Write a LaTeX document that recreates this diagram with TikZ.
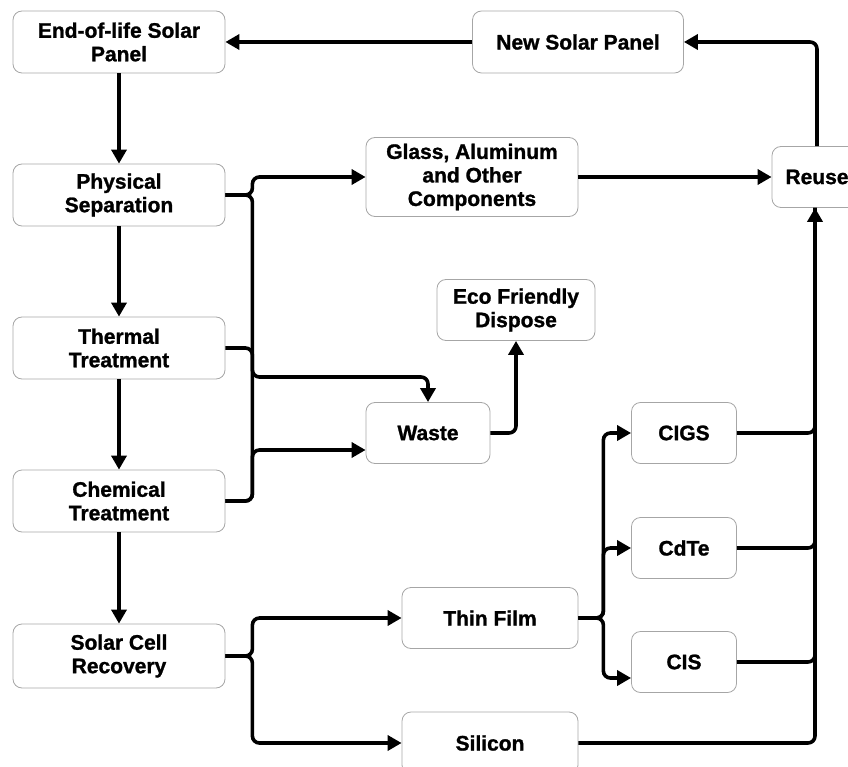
\documentclass[tikz,border=0pt]{standalone}
\usepackage{fontspec}
\setmainfont{Liberation Sans}[BoldFeatures={FakeBold=1.2}]
\usetikzlibrary{arrows.meta}

\begin{document}
\begin{tikzpicture}[x=1pt, y=-1pt,
  every node/.style = {shape=rectangle, rounded corners=9pt,
    draw=black!35, line width=0.8pt, align=center, inner sep=0pt,
    font=\fontsize{21}{23.5}\selectfont\bfseries},
  box/.style = {minimum width=212pt, minimum height=62pt},
  flow/.style = {line width=3.6pt, rounded corners=7pt,
    -{Triangle[length=14pt,width=15pt]}},
  link/.style = {line width=3.6pt, rounded corners=7pt}]

  \clip (0,0) rectangle (848,767);

  % main column
  \node[box] (eol)   at (119,42)  {End-of-life Solar\\Panel};
  \node[box] (phys)  at (119,195) {Physical\\Separation};
  \node[box] (therm) at (119,348) {Thermal\\Treatment};
  \node[box] (chem)  at (119,501) {Chemical\\Treatment};
  \node[box, minimum height=64pt] (scr) at (119,656) {Solar Cell\\Recovery};

  % outputs
  \node[box, minimum width=211pt] (new) at (578,42) {New Solar Panel};
  \node[box, minimum height=79pt] (glass) at (472,177) {Glass, Aluminum\\and Other\\Components};
  \node[minimum width=90pt, minimum height=61pt] (reuse) at (817,177) {Reuse};
  \node[minimum width=158pt, minimum height=61pt] (eco) at (516,310) {Eco Friendly\\Dispose};
  \node[minimum width=124pt, minimum height=61pt] (waste) at (428,433) {Waste};
  \node[minimum width=176pt, minimum height=61pt] (thin) at (490,618) {Thin Film};
  \node[minimum width=176pt, minimum height=62pt] (sil) at (490,743) {Silicon};
  \node[minimum width=105pt, minimum height=61pt] (cigs) at (684,433) {CIGS};
  \node[minimum width=105pt, minimum height=61pt] (cdte) at (684,548) {CdTe};
  \node[minimum width=105pt, minimum height=61pt] (cis) at (684,662) {CIS};

  \coordinate (wtop) at (428,377);

  % down the column
  \draw[flow] (eol) -- (phys);
  \draw[flow] (phys) -- (therm);
  \draw[flow] (therm) -- (chem);
  \draw[flow] (chem) -- (scr);

  % loop back
  \draw[flow] (new.west) -- (eol.east);
  \draw[flow] (reuse.north) |- (new.east);
  \draw[flow] (glass.east) -- (reuse.west);

  % separation outputs
  \draw[flow] (phys.east) -- ++(27,0) |- (glass.west);
  \draw[link] (phys.east) -- ++(27,0) |- (chem.east);
  \draw[flow] (therm.east) -- ++(27,0) |- (wtop) -- (waste.north);
  \draw[flow] (chem.east) -- ++(27,0) |- ([yshift=-17pt]waste.west);
  \draw[flow] (waste.east) -| (eco.south);

  % cell recovery
  \draw[flow] (scr.east) -- ++(27,0) |- (thin.west);
  \draw[flow] (scr.east) -- ++(27,0) |- (sil.west);
  \draw[flow] (thin.east) -- ++(25,0) |- (cigs.west);
  \draw[flow] (thin.east) -- ++(25,0) |- (cdte.west);
  \draw[flow] (thin.east) -- ++(25,0) |- ([yshift=-16pt]cis.west);

  % back to reuse
  \draw[link] (cigs.east) -| ([xshift=-2pt]reuse.south);
  \draw[link] (cdte.east) -| ([xshift=-2pt]reuse.south);
  \draw[link] (cis.east) -| ([xshift=-2pt]reuse.south);
  \draw[flow] (sil.east) -| ([xshift=-2pt]reuse.south);
\end{tikzpicture}
\end{document}
